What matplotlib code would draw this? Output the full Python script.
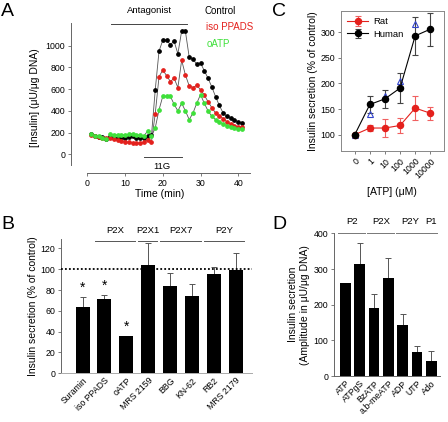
import numpy as np
import matplotlib.pyplot as plt

plt.rcParams['font.family'] = ['Liberation Sans', 'DejaVu Sans']
plt.rcParams['font.size'] = 7

# ---- Panel A: perifusion traces ----
time_min = np.arange(1, 42)
a_control = [185, 170, 160, 162, 145, 160, 155, 150, 155, 150, 160, 165, 150, 155, 150, 165, 175,
             595, 950, 1050, 1050, 1010, 1040, 925, 1135, 1130, 895, 875, 830, 840, 770, 700, 620,
             530, 450, 380, 350, 335, 315, 300, 290]
a_isoppads = [180, 165, 160, 155, 150, 150, 140, 130, 125, 118, 112, 108, 105, 105, 110, 135, 118,
              375, 715, 775, 725, 670, 700, 615, 865, 730, 630, 615, 635, 595, 545, 485, 430,
              380, 355, 330, 300, 280, 265, 255, 250]
a_oatp = [185, 170, 165, 150, 140, 185, 180, 178, 175, 180, 185, 190, 180, 178, 172, 215, 165,
          245, 410, 535, 535, 535, 460, 400, 470, 400, 320, 380, 470, 550, 470, 400, 350,
          320, 300, 280, 265, 250, 240, 235, 230]

# ---- Panel B: antagonists ----
b_labels = ['Suramin', 'iso PPADS', 'oATP', 'MRS 2159', 'BBG', 'KN-62', 'RB2', 'MRS 2179']
b_values = [64, 71, 35.5, 104, 84, 74, 95.5, 99]
b_err = [9, 4.5, 0.5, 21, 12, 12, 7, 17]
b_signif = [True, True, True, False, False, False, False, False]
b_groups = [('P2X', 1, 2), ('P2X1', 3, 3), ('P2X7', 4, 5), ('P2Y', 6, 7)]

# ---- Panel C: ATP dose response ----
c_labels = ['0', '1', '10', '100', '1000', '10000']
c_rat = [100, 113, 113, 118, 152, 142]
c_rat_err = [0, 6, 17, 15, 24, 13]
c_human = [100, 159, 170, 191, 293, 306]
c_human_err = [0, 17, 18, 30, 37, 32]
c_triangle = [100, 141, 175, 205, 317]

# ---- Panel D: agonists ----
d_labels = ['ATP', 'ATPgS', 'BzATP', 'a,b-meATP', 'ADP', 'UTP', 'Ado']
d_values = [261, 313, 190, 274, 143, 67, 43]
d_err = [0, 61, 40, 56, 32, 17, 27]
d_groups = [('P2', 0, 1), ('P2X', 2, 3), ('P2Y', 4, 5), ('P1', 6, 6)]

red = '#e4201c'
green = '#3ee03a'
spine_col = '#666666'

fig = plt.figure(figsize=(4.48, 4.22), dpi=100)


def style_ticks(ax):
    ax.tick_params(labelsize=6.3, length=2.5, width=0.6, color=spine_col, direction='out', pad=1.5)
    for s in ax.spines.values():
        s.set_color(spine_col)
        s.set_linewidth(0.7)


# Panel A
axA = fig.add_axes([0.158, 0.589, 0.399, 0.357])
for vals, col in [(a_control, 'black'), (a_isoppads, red), (a_oatp, green)]:
    axA.plot(time_min, vals, '-', color='#555555', lw=0.6, zorder=1)
    axA.plot(time_min, vals, 'o', color=col, ms=2.4, mec=col, zorder=2)
axA.set_xlim(-4.4, 43)
axA.set_ylim(-175, 1210)
axA.spines['top'].set_visible(False)
axA.spines['right'].set_visible(False)
axA.spines['left'].set_bounds(-100, 1210)
axA.spines['bottom'].set_bounds(0, 43)
axA.set_xticks([0, 10, 20, 30, 40])
axA.set_yticks([0, 200, 400, 600, 800, 1000])
style_ticks(axA)
axA.set_xlabel('Time (min)', fontsize=7.5, labelpad=1)
axA.set_ylabel('[Insulin] (\u03bcU/\u03bcg DNA)', fontsize=7.5, labelpad=4)
axA.plot([6.3, 26.4], [1200, 1200], color='#444444', lw=0.7, clip_on=False)
axA.text(16.6, 1320, 'Antagonist', ha='center', va='center', fontsize=6.8, clip_on=False)
axA.plot([15, 25], [-22, -22], color='#444444', lw=0.7)
axA.text(19.8, -108, '11G', ha='center', va='center', fontsize=6.8)
fig.text(0.457, 0.974, 'Control', color='black', fontsize=7, va='center')
fig.text(0.459, 0.935, 'iso PPADS', color=red, fontsize=7, va='center')
fig.text(0.462, 0.895, 'oATP', color=green, fontsize=7, va='center')
fig.text(0.003, 0.972, 'A', fontsize=14, va='center')

# Panel B
axB = fig.add_axes([0.1355, 0.1154, 0.427, 0.318])
xb = np.arange(len(b_labels))
axB.bar(xb, b_values, width=0.64, color='black', zorder=2)
axB.errorbar(xb, b_values, yerr=[np.zeros(len(b_err)), b_err], fmt='none', ecolor='#555555',
             elinewidth=0.7, capsize=2.5, capthick=0.7, zorder=1)
for i, sig in enumerate(b_signif):
    if sig:
        axB.text(xb[i], b_values[i] + b_err[i] + 2, '*', ha='center', va='bottom', fontsize=10)
axB.axhline(100, color='black', lw=1.3, ls=(0, (1, 1.2)), zorder=3)
axB.set_xlim(-1.0, 7.75)
axB.set_ylim(0, 129)
axB.spines['top'].set_visible(False)
axB.spines['right'].set_visible(False)
axB.set_yticks(np.arange(0, 121, 20))
axB.set_xticks(xb)
axB.set_xticklabels(b_labels, rotation=45, ha='right', rotation_mode='anchor')
style_ticks(axB)
axB.spines['bottom'].set_color('#aaaaaa')
axB.tick_params(axis='x', length=0, pad=2)
axB.set_ylabel('Insulin secretion (% of control)', fontsize=7.5, labelpad=2)
for name, s, e in b_groups:
    axB.plot([s - 0.45, e + 0.4], [127, 127], color='#555555', lw=0.7, clip_on=False)
    axB.text((s + e) / 2, 137, name, ha='center', va='center', fontsize=6.8, clip_on=False)
fig.text(0.003, 0.467, 'B', fontsize=14, va='center')

# Panel C
axC = fig.add_axes([0.7605, 0.642, 0.2306, 0.3325])
xc = np.arange(len(c_labels))
axC.errorbar(xc, c_rat, yerr=c_rat_err, color=red, ecolor='#f06060', marker='o', ms=4.4,
             lw=0.8, elinewidth=0.8, capsize=2, capthick=0.8, label='Rat')
axC.errorbar(xc, c_human, yerr=c_human_err, color='black', ecolor='#444444', marker='o', ms=4.4,
             lw=0.8, elinewidth=0.8, capsize=2, capthick=0.8, label='Human')
axC.plot(xc[:len(c_triangle)], c_triangle, '^', mfc='none', mec='#3344cc', ms=4.8, mew=0.8)
axC.set_xlim(-0.93, 5.91)
axC.set_ylim(68, 342)
axC.set_yticks([100, 150, 200, 250, 300])
axC.set_xticks(xc)
axC.set_xticklabels(c_labels, rotation=45, ha='right', rotation_mode='anchor')
style_ticks(axC)
for s in axC.spines.values():
    s.set_color('#888888')
axC.set_xlabel('[ATP] (\u03bcM)', fontsize=7.5, labelpad=5)
axC.set_ylabel('Insulin secretion (% of control)', fontsize=7.5, labelpad=2)
axC.legend(loc='upper left', frameon=False, fontsize=6.8, handlelength=2.2, borderaxespad=0.3,
           handletextpad=0.5, labelspacing=0.35)
fig.text(0.608, 0.972, 'C', fontsize=14, va='center')

# Panel D
axD = fig.add_axes([0.7455, 0.109, 0.2366, 0.338])
xd = np.arange(len(d_labels))
axD.bar(xd, d_values, width=0.75, color='black', zorder=2)
axD.errorbar(xd, d_values, yerr=[np.zeros(len(d_err)), d_err], fmt='none', ecolor='#555555',
             elinewidth=0.7, capsize=2, capthick=0.7, zorder=1)
axD.set_xlim(-0.79, 6.6)
axD.set_ylim(0, 400)
axD.spines['top'].set_visible(False)
axD.spines['right'].set_visible(False)
axD.set_yticks([0, 100, 200, 300, 400])
axD.set_xticks(xd)
axD.set_xticklabels(d_labels, rotation=45, ha='right', rotation_mode='anchor')
style_ticks(axD)
axD.tick_params(axis='x', length=0, pad=2)
axD.set_ylabel('Insulin secretion\n(Amplitude in \u03bcU/\u03bcg DNA)', fontsize=7.5, labelpad=3)
for name, s, e in d_groups:
    axD.plot([s - 0.5, e + 0.4], [400, 400], color='#777777', lw=0.7, clip_on=False)
    axD.text((s + e) / 2, 432, name, ha='center', va='center', fontsize=6.8, clip_on=False)
fig.text(0.608, 0.467, 'D', fontsize=14, va='center')

fig.savefig('out.png', dpi=100)
